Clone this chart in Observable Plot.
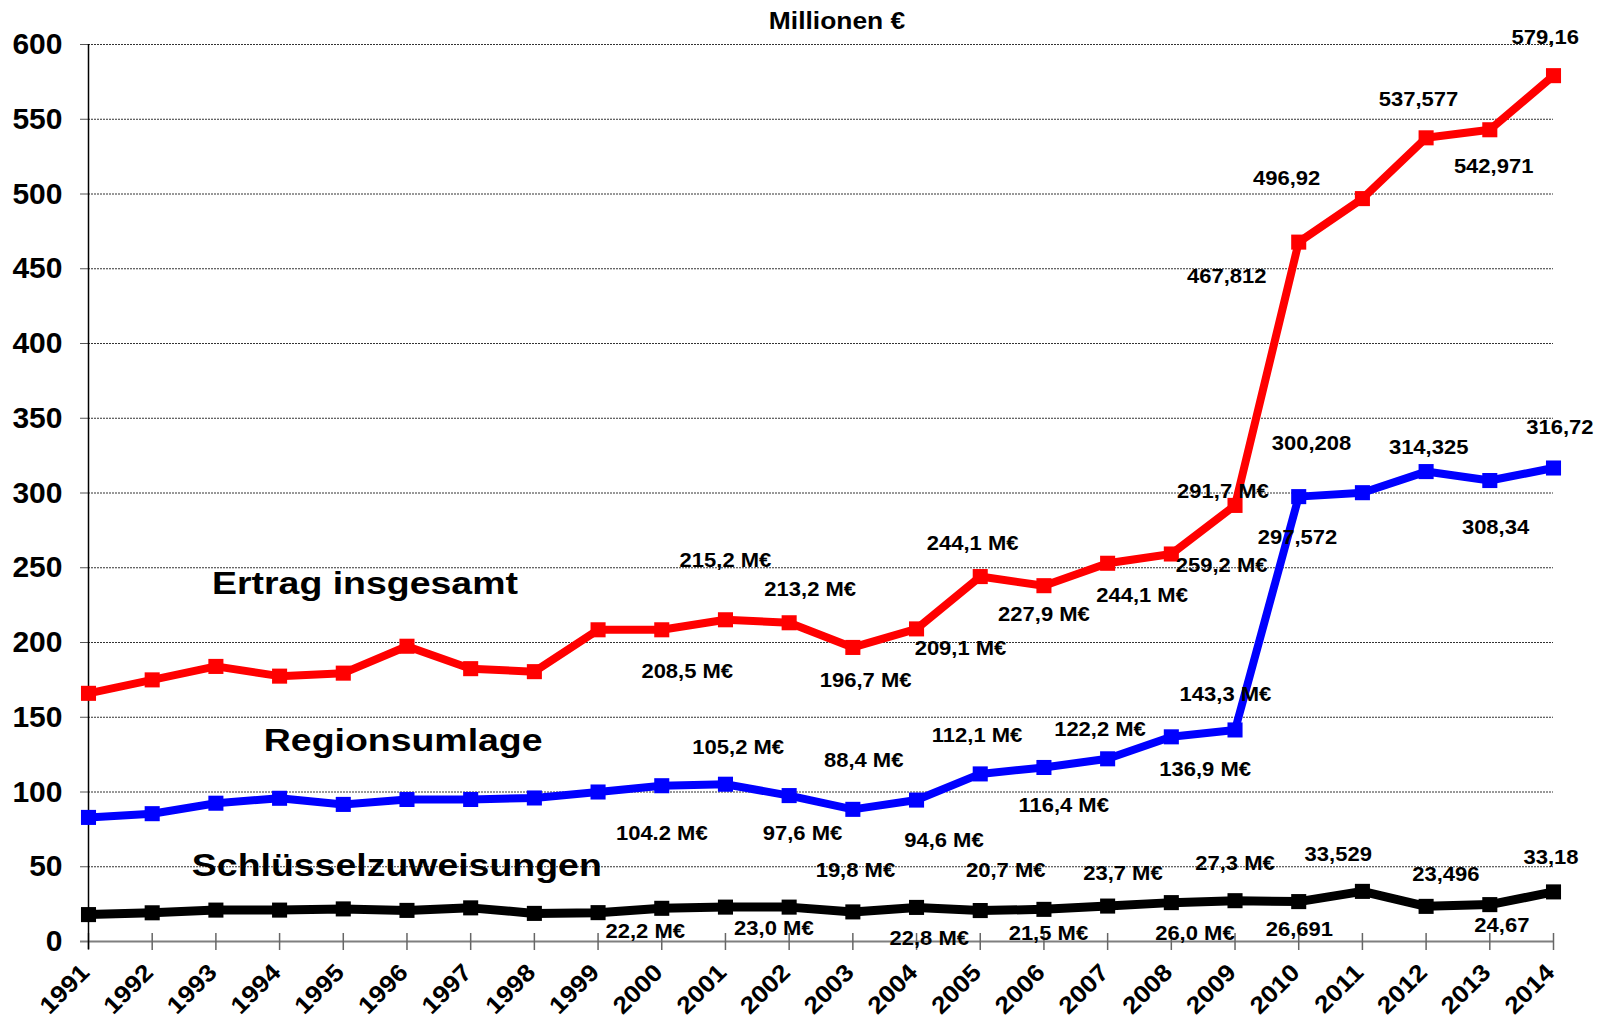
<!DOCTYPE html>
<html>
<head>
<meta charset="utf-8">
<script src="https://cdn.jsdelivr.net/npm/d3@7"></script>
<script src="https://cdn.jsdelivr.net/npm/@observablehq/plot@0.6"></script>
<style>
  html, body { margin: 0; padding: 0; background: #fff; }
  svg { display: block; }
</style>
</head>
<body>
<div id="chart"></div>
<script>
// ---------- data ----------
const years = [1991,1992,1993,1994,1995,1996,1997,1998,1999,2000,2001,2002,2003,2004,2005,2006,2007,2008,2009,2010,2011,2012,2013,2014];

const ertragInsgesamt = [166,175,184,177.5,179.5,197.5,182.5,180.5,208.5,208.5,215.2,213.2,196.7,209.1,244.1,238,253,259.2,291.7,467.812,496.92,537.577,542.971,579.16];
const regionsumlage   = [83,85.5,92.5,95.8,91.7,95,95,96,100,104.2,105.2,97.6,88.4,94.6,112.1,116.4,122.2,136.9,141.5,297.572,300.208,314.325,308.34,316.72];
const schluessel      = [18,19.2,21,21,21.8,20.8,22.5,18.8,19.3,22.2,23.0,23.0,19.8,22.8,20.7,21.5,23.7,26.0,27.3,26.691,33.529,23.496,24.67,33.18];

const yTicks = [0,50,100,150,200,250,300,350,400,450,500,550,600];

const title = "Millionen €";

// series names and their label anchors (year, value)
const seriesNames  = ["Ertrag insgesamt", "Regionsumlage", "Schlüsselzuweisungen"];
const seriesLabelX = [1995.34, 1995.94, 1995.84];
const seriesLabelY = [239.4, 134.3, 50.8];

// value annotations: text and anchor (year, value)
const annotText = [
  "215,2 M€","213,2 M€","208,5 M€","196,7 M€","209,1 M€","244,1 M€","227,9 M€","244,1 M€","259,2 M€","291,7 M€",
  "467,812","496,92","537,577","542,971","579,16",
  "104.2 M€","105,2 M€","97,6 M€","88,4 M€","94,6 M€","112,1 M€","116,4 M€","122,2 M€","136,9 M€","143,3 M€",
  "297,572","300,208","314,325","308,34","316,72",
  "22,2 M€","23,0 M€","19,8 M€","22,8 M€","20,7 M€","21,5 M€","23,7 M€","26,0 M€","27,3 M€",
  "26,691","33,529","23,496","24,67","33,18"
];
const annotX = [
  2001.0,2002.33,2000.4,2003.2,2004.69,2004.88,2006.0,2007.54,2008.79,2008.81,
  2008.87,2009.81,2011.88,2013.06,2013.87,
  2000.0,2001.2,2002.21,2003.17,2004.43,2004.95,2006.31,2006.88,2008.53,2008.85,
  2009.98,2010.2,2012.04,2013.09,2014.1,
  1999.74,2001.76,2003.04,2004.2,2005.4,2006.07,2007.24,2008.37,2009.0,
  2010.01,2010.62,2012.31,2013.19,2013.96
];
const annotY = [
  254.5,235.5,180.3,174.8,195.9,266.3,218.8,231.7,251.2,300.8,
  444.5,510.2,563.3,518.2,604.6,
  71.9,129.8,71.9,121.2,67.4,137.9,90.8,141.6,114.8,165,
  270.4,333,330.7,276.6,343.5,
  6.5,8.5,47.1,1.9,47.1,5,45.4,5,51.8,
  7.7,57.9,44.5,10.6,56.4
];

// ---------- build tables ----------
const FONT = "'Liberation Sans', Arial, Helvetica, sans-serif";
const mk = (vals) => years.map((year, i) => ({year, value: vals[i]}));
const redData = mk(ertragInsgesamt);
const blueData = mk(regionsumlage);
const blackData = mk(schluessel);
const annots = annotText.map((t, i) => ({text: t, x: annotX[i], y: annotY[i]}));
const seriesLabels = seriesNames.map((t, i) => ({text: t, x: seriesLabelX[i], y: seriesLabelY[i]}));

const chart = Plot.plot({
  width: 1597,
  height: 1027,
  marginLeft: 88,
  marginRight: 44,
  marginTop: 44,
  marginBottom: 86,
  style: {fontFamily: FONT, background: "#fff", color: "#000", overflow: "visible"},
  x: {domain: [1991, 2014], axis: null},
  y: {domain: [0, 600], axis: null},
  marks: [
    Plot.gridY(yTicks.filter(d => d > 0), {stroke: "#333", strokeOpacity: 1, strokeWidth: 1, strokeDasharray: "2,1"}),
    Plot.axisY(yTicks, {tickSize: 8, tickPadding: 18, stroke: "#555", fontSize: 30, fontWeight: "bold", label: null, tickFormat: d => String(d)}),
    Plot.ruleY([0], {stroke: "#7f7f7f", strokeWidth: 2, insetLeft: -8}),
    Plot.ruleX(years, {x: d => d, y1: 0, y2: 0, insetTop: -8, insetBottom: -9, stroke: "#666", strokeWidth: 1.5}),
    Plot.ruleX([1991], {stroke: "#000", strokeWidth: 1.5, insetBottom: -8}),
    // x tick labels  (text group 0)
    Plot.text(years, {x: d => d, y: 0, text: d => String(d), rotate: -45, textAnchor: "end", lineAnchor: "middle", dx: -3, dy: 27,
      fontSize: 24, fontWeight: "bold", fill: "#000"}),
    Plot.line(redData, {x: "year", y: "value", stroke: "#ff0000", strokeWidth: 8}),
    Plot.dot(redData, {x: "year", y: "value", symbol: "square", r: 8.5, fill: "#ff0000"}),
    Plot.line(blueData, {x: "year", y: "value", stroke: "#0000ff", strokeWidth: 8}),
    Plot.dot(blueData, {x: "year", y: "value", symbol: "square", r: 8.5, fill: "#0000ff"}),
    Plot.line(blackData, {x: "year", y: "value", stroke: "#000", strokeWidth: 9}),
    Plot.dot(blackData, {x: "year", y: "value", symbol: "square", r: 8.5, fill: "#000"}),
    // series labels (text group 1)
    Plot.text(seriesLabels, {x: "x", y: "y", text: "text", lineAnchor: "middle", fontSize: 32, fontWeight: "bold", fill: "#000"}),
    // annotations (text group 2)
    Plot.text(annots, {x: "x", y: "y", text: "text", lineAnchor: "middle", fontSize: 20, fontWeight: "bold", fill: "#000"}),
    // title (text group 3)
    Plot.text([title], {frameAnchor: "top", lineAnchor: "middle", dx: 16, dy: -23, text: d => d, fontSize: 24, fontWeight: "bold", fill: "#000"})
  ]
});

document.getElementById("chart").appendChild(chart);

// slight horizontal stretch of the text, as in the reference
const textGroups = chart.querySelectorAll('g[aria-label="text"]');
function stretch(group, k) {
  if (!group) return;
  group.querySelectorAll("text").forEach(t => {
    const L = t.getComputedTextLength();
    if (L > 0) {
      t.setAttribute("textLength", (L * k).toFixed(1));
      t.setAttribute("lengthAdjust", "spacingAndGlyphs");
    }
  });
}
stretch(textGroups[0], 1.1);
stretch(textGroups[1], 1.17);
stretch(textGroups[2], 1.1);
stretch(textGroups[3], 1.1);
</script>
</body>
</html>
